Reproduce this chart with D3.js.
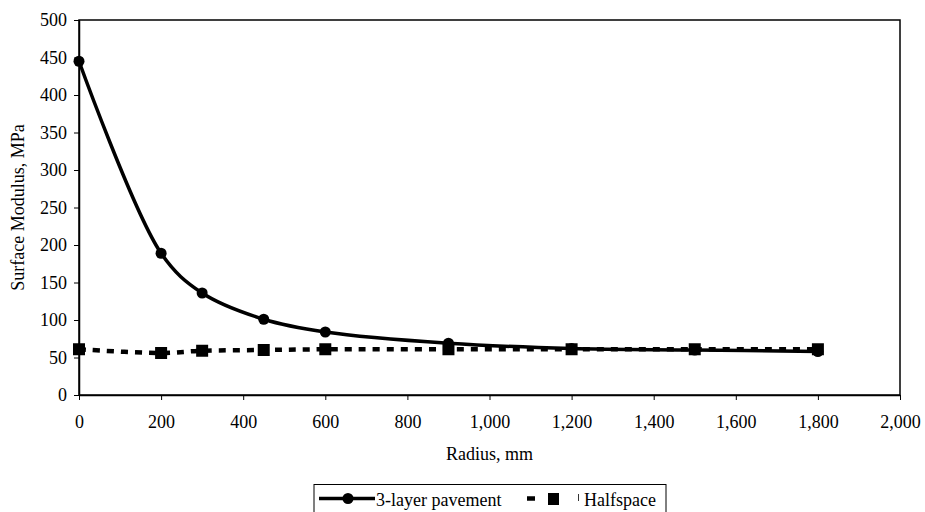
<!DOCTYPE html>
<html>
<head>
<meta charset="utf-8">
<script src="https://cdn.jsdelivr.net/npm/d3@7"></script>
</head>
<body style="margin:0;background:#fff">
<div id="container"></div>
<script>
const w = 925;
const h = 512;
const serif = "'Liberation Serif'";

// data
const radius = [0, 200, 300, 450, 600, 900, 1200, 1500, 1800];
const pavement = [445, 189, 136, 101, 84, 69, 62, 60, 58];
const halfspace = [61, 56, 59, 60, 61, 61, 61, 61, 61];
const xTicks = [0, 200, 400, 600, 800, 1000, 1200, 1400, 1600, 1800, 2000];
const yTicks = [0, 50, 100, 150, 200, 250, 300, 350, 400, 450, 500];

const padL = 79, padR = 900, padT = 20, padB = 395;

const svg = d3.select("#container").append("svg")
  .attr("width", w).attr("height", h);

const x = d3.scaleLinear().domain([0, 2000]).range([padL, padR]);
const y = d3.scaleLinear().domain([0, 500]).range([padB, padT]);

// plot frame
svg.append("rect")
  .attr("x", padL).attr("y", padT)
  .attr("width", padR - padL).attr("height", padB - padT)
  .attr("fill", "none").attr("stroke", "#000").attr("stroke-width", 1.5);

const xAxis = d3.axisBottom(x).tickValues(xTicks).tickSize(5).tickSizeOuter(0)
  .tickPadding(15).tickFormat(d3.format(","));
const yAxis = d3.axisLeft(y).tickValues(yTicks).tickSize(5).tickSizeOuter(0)
  .tickPadding(7);

const gx = svg.append("g").attr("transform", "translate(0," + padB + ")").call(xAxis);
const gy = svg.append("g").attr("transform", "translate(" + padL + ",0)").call(yAxis);
[gx, gy].forEach(g => {
  g.select(".domain").attr("stroke-width", 1.5);
  g.selectAll("text").attr("font-size", 18).style("font-family", serif);
});

svg.append("text")
  .attr("x", (padL + padR) / 2).attr("y", 460)
  .attr("text-anchor", "middle").attr("font-size", 18).style("font-family", serif)
  .text("Radius, mm");

svg.append("text")
  .attr("transform", "translate(24," + (padT + padB) / 2 + ") rotate(-90)")
  .attr("text-anchor", "middle").attr("font-size", 18).style("font-family", serif)
  .text("Surface Modulus, MPa");

const pts1 = radius.map((r, i) => [r, pavement[i]]);
const pts2 = radius.map((r, i) => [r, halfspace[i]]);

const line = d3.line()
  .x(d => x(d[0])).y(d => y(d[1]))
  .curve(d3.curveCatmullRom.alpha(0.5));

svg.append("path").datum(pts2)
  .attr("d", line).attr("fill", "none").attr("stroke", "#000")
  .attr("stroke-width", 4.5).attr("stroke-dasharray", "7,7");

svg.append("path").datum(pts1)
  .attr("d", line).attr("fill", "none").attr("stroke", "#000")
  .attr("stroke-width", 3.5);

svg.selectAll(".sq").data(pts2).enter().append("rect")
  .attr("x", d => x(d[0]) - 6).attr("y", d => y(d[1]) - 6)
  .attr("width", 12).attr("height", 12).attr("fill", "#000");

svg.selectAll(".dot").data(pts1).enter().append("circle")
  .attr("cx", d => x(d[0])).attr("cy", d => y(d[1]))
  .attr("r", 5.5).attr("fill", "#000");

// legend
const lg = svg.append("g");
lg.append("rect").attr("x", 314).attr("y", 484.5).attr("width", 352).attr("height", 40)
  .attr("fill", "#fff").attr("stroke", "#000").attr("stroke-width", 1);
lg.append("line").attr("x1", 319).attr("x2", 375).attr("y1", 498.5).attr("y2", 498.5)
  .attr("stroke", "#000").attr("stroke-width", 3.5);
lg.append("circle").attr("cx", 348).attr("cy", 498.5).attr("r", 5.5).attr("fill", "#000");
lg.append("text").attr("x", 376).attr("y", 506).attr("font-size", 18).style("font-family", serif)
  .text("3-layer pavement");
lg.append("line").attr("x1", 527).attr("x2", 535).attr("y1", 498.5).attr("y2", 498.5)
  .attr("stroke", "#000").attr("stroke-width", 4.5);
lg.append("rect").attr("x", 548).attr("y", 493).attr("width", 11).attr("height", 12).attr("fill", "#000");
lg.append("line").attr("x1", 578.5).attr("x2", 578.5).attr("y1", 494).attr("y2", 501)
  .attr("stroke", "#000").attr("stroke-width", 0.8);
lg.append("text").attr("x", 584).attr("y", 506).attr("font-size", 18).style("font-family", serif)
  .text("Halfspace");
</script>
</body>
</html>
